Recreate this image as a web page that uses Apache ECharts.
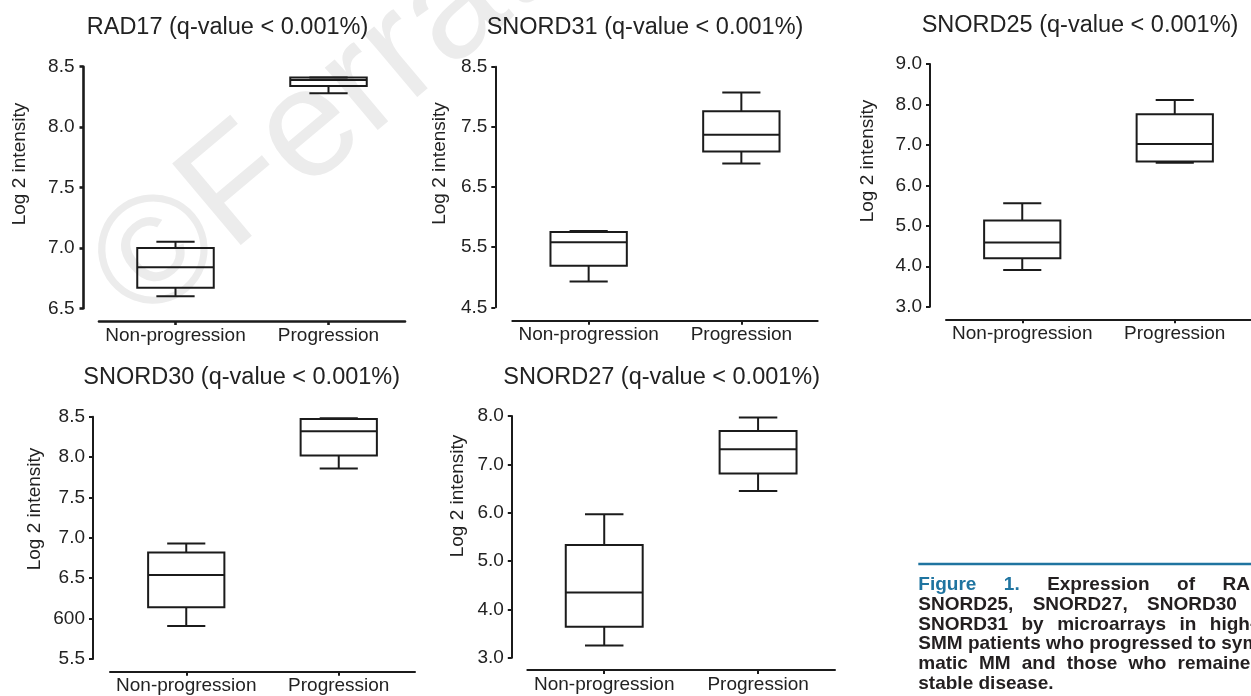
<!DOCTYPE html>
<html>
<head>
<meta charset="utf-8">
<script src="https://cdn.jsdelivr.net/npm/echarts@6/dist/echarts.min.js"></script>
<style>
html,body{margin:0;padding:0;background:#ffffff;}
#c{width:1251px;height:696px;}
</style>
</head>
<body>
<div id="c"></div>
<script>
// ---------------- DATA ----------------
const categories = ['Non-progression', 'Progression'];
const panelTitles = [
  'RAD17 (q-value < 0.001%)',
  'SNORD31 (q-value < 0.001%)',
  'SNORD25 (q-value < 0.001%)',
  'SNORD30 (q-value < 0.001%)',
  'SNORD27 (q-value < 0.001%)'
];
const yAxisName = 'Log 2 intensity';
// box statistics per group: [min, Q1, median, Q3, max]
const rad17   = [[6.60, 6.67, 6.84, 7.00, 7.05], [8.28, 8.34, 8.39, 8.41, 8.41]];
const snord31 = [[4.93, 5.19, 5.58, 5.75, 5.77], [6.89, 7.09, 7.37, 7.76, 8.07]];
const snord25 = [[3.91, 4.20, 4.59, 5.13, 5.56], [6.56, 6.59, 7.02, 7.76, 8.11]];
const snord30 = [[5.91, 6.14, 6.54, 6.82, 6.93], [7.86, 8.02, 8.32, 8.47, 8.48]];
const snord27 = [[3.25, 3.64, 4.35, 5.33, 5.97], [6.45, 6.81, 7.31, 7.69, 7.97]];
// y ticks and their printed labels
const ticksRad17   = [6.5, 7.0, 7.5, 8.0, 8.5];
const labelsRad17  = ['6.5', '7.0', '7.5', '8.0', '8.5'];
const ticksSnord31  = [4.5, 5.5, 6.5, 7.5, 8.5];
const labelsSnord31 = ['4.5', '5.5', '6.5', '7.5', '8.5'];
const ticksSnord25  = [3, 4, 5, 6, 7, 8, 9];
const labelsSnord25 = ['3.0', '4.0', '5.0', '6.0', '7.0', '8.0', '9.0'];
const ticksSnord30  = [5.5, 6.0, 6.5, 7.0, 7.5, 8.0, 8.5];
const labelsSnord30 = ['5.5', '600', '6.5', '7.0', '7.5', '8.0', '8.5'];
const ticksSnord27  = [3, 4, 5, 6, 7, 8];
const labelsSnord27 = ['3.0', '4.0', '5.0', '6.0', '7.0', '8.0'];
// caption
const captionLead = 'Figure 1.';
const captionLines = [
  'Figure 1. Expression of RAD17,',
  'SNORD25, SNORD27, SNORD30 and',
  'SNORD31 by microarrays in high-risk',
  'SMM patients who progressed to sympto-',
  'matic MM and those who remained in',
  'stable disease.'
];
const watermarkText = '©Ferrata Storti Foundation';

// ---------------- LAYOUT / STYLE ----------------
const FONT = "'Liberation Sans', Arial, Helvetica, sans-serif";
const INK = '#1b1b1b';
const TXT = '#222222';
const BLUE = '#1f74a0';

const panelData = [rad17, snord31, snord25, snord30, snord27];
const panelTicks = [ticksRad17, ticksSnord31, ticksSnord25, ticksSnord30, ticksSnord27];
const panelLabels = [labelsRad17, labelsSnord31, labelsSnord25, labelsSnord30, labelsSnord27];

const layout = [
  {left: 99,    top: 66.7, width: 306,   height: 241.6, yOff: 15.5, xOff: 12.7, aw: 2.6, lm: 9,  tx: 227.5, ty: 27.5, nx: 20,  ny: 164},
  {left: 512.3, top: 66.7, width: 305.4, height: 240.6, yOff: 17,   xOff: 13.4, aw: 2,   lm: 8,  tx: 645,   ty: 27.5, nx: 440, ny: 163.5},
  {left: 946,   top: 64,   width: 305,   height: 242.7, yOff: 16,   xOff: 12.6, aw: 2,   lm: 8,  tx: 1080,  ty: 26,   nx: 868, ny: 161},
  {left: 110,   top: 416.7,width: 305,   height: 242.3, yOff: 17,   xOff: 12.7, aw: 2,   lm: 8,  tx: 241.7, ty: 377.5,nx: 35,  ny: 509},
  {left: 527.3, top: 416,  width: 307.7, height: 241.7, yOff: 15.5, xOff: 12.3, aw: 2,   lm: 8,  tx: 661.7, ty: 377.5,nx: 458, ny: 496}
];

function renderBox(params, api) {
  const c = api.value(0);
  const pMin = api.coord([c, api.value(1)]);
  const pQ1 = api.coord([c, api.value(2)]);
  const pMed = api.coord([c, api.value(3)]);
  const pQ3 = api.coord([c, api.value(4)]);
  const pMax = api.coord([c, api.value(5)]);
  const band = api.size([1, 0])[0];
  const bw = band * 0.5;
  const cw = band * 0.25;
  const x = pMed[0];
  const st = {stroke: INK, lineWidth: 2, fill: null};
  return {
    type: 'group',
    children: [
      {type: 'line', shape: {x1: x, y1: pQ3[1], x2: x, y2: pMax[1]}, style: st},
      {type: 'line', shape: {x1: x, y1: pQ1[1], x2: x, y2: pMin[1]}, style: st},
      {type: 'line', shape: {x1: x - cw / 2, y1: pMax[1], x2: x + cw / 2, y2: pMax[1]}, style: st},
      {type: 'line', shape: {x1: x - cw / 2, y1: pMin[1], x2: x + cw / 2, y2: pMin[1]}, style: st},
      {type: 'rect', shape: {x: x - bw / 2, y: pQ3[1], width: bw, height: pQ1[1] - pQ3[1]},
        style: {stroke: INK, lineWidth: 2, fill: 'transparent'}},
      {type: 'line', shape: {x1: x - bw / 2, y1: pMed[1], x2: x + bw / 2, y2: pMed[1]}, style: st}
    ]
  };
}

const grids = [], xAxes = [], yAxes = [], series = [], graphics = [];

layout.forEach((l, i) => {
  grids.push({left: l.left, top: l.top, width: l.width, height: l.height, containLabel: false});
  xAxes.push({
    type: 'category', gridIndex: i, data: categories, boundaryGap: true, offset: l.xOff,
    axisLine: {show: true, lineStyle: {color: INK, width: l.aw}},
    axisTick: {show: true, alignWithLabel: true, length: 4, lineStyle: {color: INK, width: l.aw}},
    axisLabel: {color: TXT, fontSize: 19, fontFamily: FONT, margin: 5, interval: 0},
    splitLine: {show: false}
  });
  const ticks = panelTicks[i], labels = panelLabels[i];
  yAxes.push({
    type: 'value', gridIndex: i, min: ticks[0], max: ticks[ticks.length - 1], offset: l.yOff,
    axisLine: {show: true, lineStyle: {color: INK, width: l.aw}},
    axisTick: {show: true, length: 4, customValues: ticks, lineStyle: {color: INK, width: l.aw}},
    axisLabel: {
      show: true, customValues: ticks, color: TXT, fontSize: 19, fontFamily: FONT, margin: l.lm,
      formatter: function (v) {
        const k = ticks.findIndex(t => Math.abs(t - v) < 1e-9);
        return k >= 0 ? labels[k] : '';
      }
    },
    splitLine: {show: false}
  });
  series.push({
    type: 'custom', xAxisIndex: i, yAxisIndex: i, silent: true, z: 3,
    data: panelData[i].map((d, j) => [j].concat(d)),
    encode: {x: 0, y: [1, 2, 3, 4, 5]},
    renderItem: renderBox
  });
  graphics.push({
    type: 'text', x: l.tx, y: l.ty, z: 5,
    style: {text: panelTitles[i], font: '23.5px ' + FONT, fill: TXT,
      align: 'center', verticalAlign: 'middle', textAlign: 'center', textVerticalAlign: 'middle'}
  });
  graphics.push({
    type: 'text', x: l.nx, y: l.ny, rotation: Math.PI / 2, z: 5,
    style: {text: yAxisName, font: '19px ' + FONT, fill: TXT,
      align: 'center', verticalAlign: 'middle', textAlign: 'center', textVerticalAlign: 'middle'}
  });
});

// watermark
graphics.push({
  type: 'text', x: 116, y: 294, rotation: 40 * Math.PI / 180, z: -10, silent: true,
  style: {text: watermarkText, font: '155px ' + FONT, fill: '#ececec',
    align: 'left', verticalAlign: 'middle', textAlign: 'left', textVerticalAlign: 'middle'}
});

// caption: rule + justified lines
const capLeft = 918.3, capRight = 1290, capTop = 585, capStep = 19.7;
const capFont = 'bold 19px ' + FONT;
graphics.push({
  type: 'line', z: 5, shape: {x1: capLeft, y1: 564, x2: 1251, y2: 564},
  style: {stroke: BLUE, lineWidth: 2.4}
});
const mctx = document.createElement('canvas').getContext('2d');
mctx.font = capFont;
const spaceW = mctx.measureText(' ').width;
captionLines.forEach((line, li) => {
  const words = line.split(' ');
  const y = capTop + li * capStep;
  const isLast = li === captionLines.length - 1;
  const widths = words.map(w => mctx.measureText(w).width);
  const total = widths.reduce((a, b) => a + b, 0);
  const gap = isLast ? spaceW : Math.max(spaceW, (capRight - capLeft - total) / (words.length - 1));
  let x = capLeft;
  const leadWords = li === 0 ? captionLead.split(' ').length : 0;
  words.forEach((w, wi) => {
    if (x < 1251) {
      graphics.push({
        type: 'text', x: x, y: y, z: 5,
        style: {text: w, font: capFont, fill: wi < leadWords ? BLUE : '#231f20',
          align: 'left', verticalAlign: 'middle', textAlign: 'left', textVerticalAlign: 'middle'}
      });
    }
    x += widths[wi] + gap;
  });
});

const chart = echarts.init(document.getElementById('c'), null, {renderer: 'canvas'});
chart.setOption({
  backgroundColor: '#ffffff',
  animation: false,
  grid: grids,
  xAxis: xAxes,
  yAxis: yAxes,
  series: series,
  graphic: {elements: graphics}
});
</script>
</body>
</html>
